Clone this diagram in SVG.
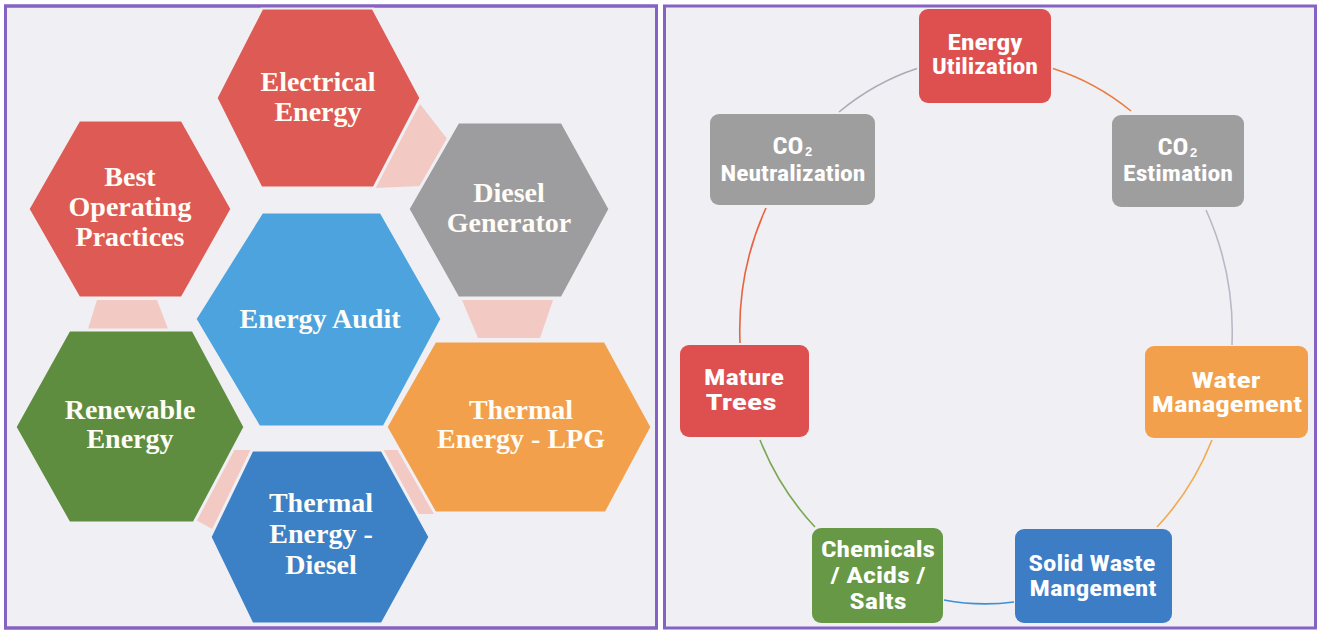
<svg xmlns="http://www.w3.org/2000/svg" width="1321" height="632" viewBox="0 0 1321 632">
<defs>
<style>
.panel{fill:#EFEFF4;stroke:#8463C2;stroke-width:3}
.hex{stroke:#EFEFF4;stroke-width:3}
.pink{fill:#F2C9C3}
.ht{font-family:'Liberation Serif','Times New Roman',serif;font-weight:bold;font-size:28px;fill:#FFFDF6;text-anchor:middle}
.box{stroke:none}
.bt{font-family:'Liberation Sans Narrow','Roboto Condensed','Liberation Sans',Arial,sans-serif;font-weight:bold;font-size:22px;fill:#FFFFFF;text-anchor:middle}
.co{font-size:24px}
.sub{font-family:'Liberation Sans Narrow','Liberation Sans',Arial,sans-serif;font-weight:bold;font-size:13px;fill:#FFFFFF}
.arc{fill:none;stroke-width:1.6}
</style>
</defs>
<rect x="0" y="0" width="1321" height="632" fill="#FFFFFF"/>
<rect class="panel" x="5.5" y="6" width="651" height="622"/>
<rect class="panel" x="664.5" y="6" width="651" height="622"/>

<g id="hex-connectors">
<polygon class="pink" points="420,104 448,140 421,186 374,188"/>
<polygon class="pink" points="462,300 553,300 540,338 478,338"/>
<polygon class="pink" points="97,300 157,300 168,329 88,329"/>
<polygon class="pink" points="232,450 254,450 214,530 196,520"/>
<polygon class="pink" points="382,450 404,450 438,514 418,514"/>
</g>

<g id="electrical-energy">
<polygon class="hex" fill="#DE5A54" points="262,8 373,8 421,98 374,188 261,188 216,98"/>
<text class="ht" x="318" y="91">Electrical</text>
<text class="ht" x="318" y="121">Energy</text>
</g>
<g id="diesel-generator">
<polygon class="hex" fill="#9D9D9F" points="458,122 562,122 610,209 562,298 458,298 408,209"/>
<text class="ht" x="509" y="202">Diesel</text>
<text class="ht" x="509" y="232">Generator</text>
</g>
<g id="best-operating-practices">
<polygon class="hex" fill="#DE5A54" points="79,120 182,120 232,209 182,298 79,298 28,209"/>
<text class="ht" x="130" y="186">Best</text>
<text class="ht" x="130" y="216">Operating</text>
<text class="ht" x="130" y="246">Practices</text>
</g>
<g id="energy-audit">
<polygon class="hex" fill="#4CA3DE" points="262,212 381,212 442,319 384,427 259,427 195,319"/>
<text class="ht" x="320" y="328">Energy Audit</text>
</g>
<g id="renewable-energy">
<polygon class="hex" fill="#5F8D40" points="69,330 193,330 245,427 194,523 69,523 15,427"/>
<text class="ht" x="130" y="419">Renewable</text>
<text class="ht" x="130" y="448">Energy</text>
</g>
<g id="thermal-energy-lpg">
<polygon class="hex" fill="#F3A04C" points="435,341 605,341 652,427 606,513 435,513 386,427"/>
<text class="ht" x="521" y="419">Thermal</text>
<text class="ht" x="521" y="448">Energy - LPG</text>
</g>
<g id="thermal-energy-diesel">
<polygon class="hex" fill="#3C80C6" points="252,450 382,450 430,537 382,624 252,624 210,537"/>
<text class="ht" x="321" y="512">Thermal</text>
<text class="ht" x="321" y="543">Energy -</text>
<text class="ht" x="321" y="574">Diesel</text>
</g>
<rect x="5.5" y="6" width="651" height="622" fill="none" stroke="#8463C2" stroke-width="3"/>

<g id="connectors">
<path class="arc" stroke="#EC7B3E" d="M1053,68.5 A247,273 0 0 1 1131,111"/>
<path class="arc" stroke="#B9B9C6" d="M1206,210 A247,273 0 0 1 1232,345"/>
<path class="arc" stroke="#F4A94A" d="M1212,440 A247,273 0 0 1 1157,527"/>
<path class="arc" stroke="#3F8FD4" d="M1014,602 A247,273 0 0 1 944,600"/>
<path class="arc" stroke="#7AA852" d="M815,527 A247,273 0 0 1 760,440"/>
<path class="arc" stroke="#E8633F" d="M740,343 A247,273 0 0 1 766,208"/>
<path class="arc" stroke="#ABABB4" d="M839,112 A247,273 0 0 1 917,68.5"/>
</g>

<g id="energy-utilization">
<rect class="box" x="919" y="9" width="132" height="94" rx="9" fill="#DE5050"/>
<text class="bt" x="985" y="50" textLength="75" lengthAdjust="spacingAndGlyphs">Energy</text>
<text class="bt" x="985" y="74" textLength="106" lengthAdjust="spacingAndGlyphs">Utilization</text>
</g>
<g id="co2-estimation">
<rect class="box" x="1112" y="115" width="132" height="92" rx="9" fill="#9E9E9E"/>
<text class="bt co" x="1173" y="155" textLength="31" lengthAdjust="spacingAndGlyphs">CO</text>
<text class="sub" x="1190" y="157">2</text>
<text class="bt" x="1178" y="181" textLength="110" lengthAdjust="spacingAndGlyphs">Estimation</text>
</g>
<g id="water-management">
<rect class="box" x="1145" y="346" width="163" height="92" rx="9" fill="#F3A04C"/>
<text class="bt" x="1226" y="388" textLength="69" lengthAdjust="spacingAndGlyphs">Water</text>
<text class="bt" x="1227" y="412" textLength="150" lengthAdjust="spacingAndGlyphs">Management</text>
</g>
<g id="solid-waste-mangement">
<rect class="box" x="1015" y="529" width="157" height="94" rx="9" fill="#3C7DC6"/>
<text class="bt" x="1092" y="571" textLength="127" lengthAdjust="spacingAndGlyphs">Solid Waste</text>
<text class="bt" x="1093" y="596" textLength="127" lengthAdjust="spacingAndGlyphs">Mangement</text>
</g>
<g id="chemicals-acids-salts">
<rect class="box" x="812" y="528" width="131" height="95" rx="9" fill="#679845"/>
<text class="bt" x="878" y="557" textLength="114" lengthAdjust="spacingAndGlyphs">Chemicals</text>
<text class="bt" x="878" y="583" textLength="95" lengthAdjust="spacingAndGlyphs">/ Acids /</text>
<text class="bt" x="878" y="609" textLength="57" lengthAdjust="spacingAndGlyphs">Salts</text>
</g>
<g id="mature-trees">
<rect class="box" x="680" y="345" width="129" height="92" rx="9" fill="#DE5050"/>
<text class="bt" x="744" y="385" textLength="80" lengthAdjust="spacingAndGlyphs">Mature</text>
<text class="bt" x="741" y="410" textLength="71" lengthAdjust="spacingAndGlyphs">Trees</text>
</g>
<g id="co2-neutralization">
<rect class="box" x="710" y="114" width="165" height="91" rx="9" fill="#9E9E9E"/>
<text class="bt co" x="788" y="154" textLength="31" lengthAdjust="spacingAndGlyphs">CO</text>
<text class="sub" x="805" y="156">2</text>
<text class="bt" x="793" y="181" textLength="145" lengthAdjust="spacingAndGlyphs">Neutralization</text>
</g>
</svg>
